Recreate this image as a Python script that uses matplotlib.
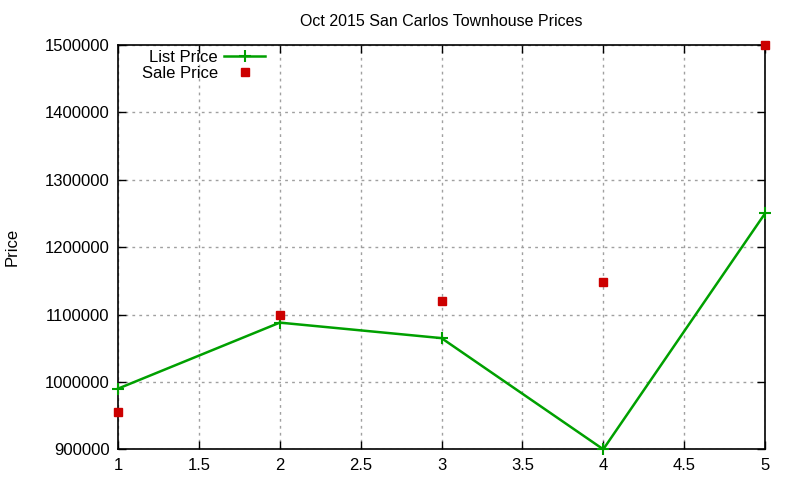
import matplotlib
matplotlib.use("Agg")
import matplotlib.pyplot as plt

plt.rcParams['font.family'] = ['Liberation Sans', 'DejaVu Sans']

x = [1, 2, 3, 4, 5]
list_price = [990000, 1088000, 1065000, 900000, 1250000]
sale_price = [955000, 1100000, 1120000, 1149000, 1500000]
xticks = [1, 1.5, 2, 2.5, 3, 3.5, 4, 4.5, 5]
yticks = [900000, 1000000, 1100000, 1200000, 1300000, 1400000, 1500000]

fig = plt.figure(figsize=(8, 4.8), dpi=100)
ax = fig.add_axes([118/800, 1-449.3/480, (765-118)/800, (449.3-45)/480])

ax.plot(x, list_price, color='#00a000', lw=1.8, marker='+', ms=9, mew=1.5,
        label='List Price', clip_on=False, zorder=3)
ax.plot(x, sale_price, ls='none', color='#cc0000', marker='s', ms=6,
        label='Sale Price', clip_on=False, zorder=4)

ax.set_xlim(1, 5)
ax.set_ylim(900000, 1500000)
ax.set_xticks(xticks)
ax.set_xticklabels(['1', '1.5', '2', '2.5', '3', '3.5', '4', '4.5', '5'])
ax.set_yticks(yticks)
ax.set_yticklabels([str(v) for v in yticks])
ax.tick_params(direction='in', length=6, top=True, right=True, labelsize=12, width=1, pad=6)
ax.grid(True, color='#a0a0a0', ls=(0, (2, 3)), lw=1)
for s in ax.spines.values():
    s.set_linewidth(1.2)

ax.set_title('Oct 2015 San Carlos Townhouse Prices', fontsize=11.5, pad=14)
fig.text(12/800, 1-247/480, 'Price', rotation=90, ha='center', va='center', fontsize=12)

ax.legend(loc='upper left', bbox_to_anchor=(0.029, 1.0), frameon=False, markerfirst=False,
          fontsize=12, handlelength=2.5, borderaxespad=0.1, labelspacing=0.05,
          handletextpad=0.35, borderpad=0.2)

fig.savefig('out.png', dpi=100)
